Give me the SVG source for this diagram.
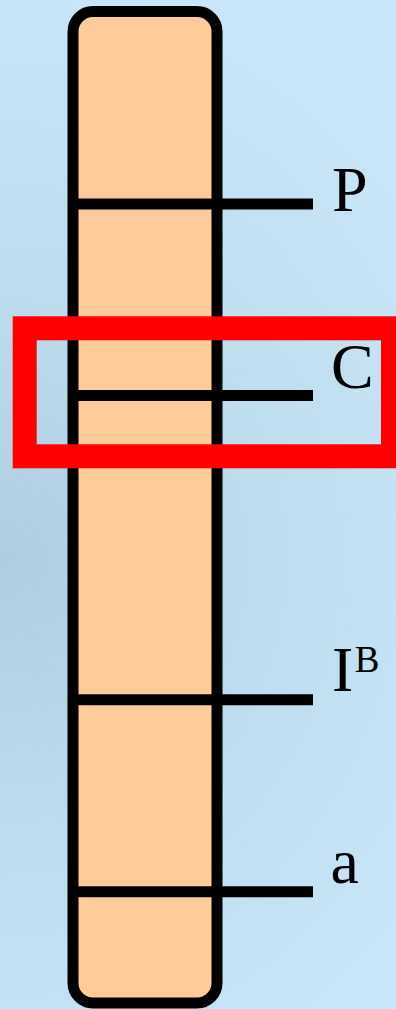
<svg xmlns="http://www.w3.org/2000/svg" width="396" height="1009" viewBox="0 0 396 1009">
<defs>
<radialGradient id="bg" gradientUnits="userSpaceOnUse" cx="0" cy="560" r="560" gradientTransform="translate(0 560) scale(1 1.1) translate(0 -560)">
<stop offset="0" stop-color="#AECDE0"/>
<stop offset="0.45" stop-color="#BDDCEE"/>
<stop offset="1" stop-color="#C9E7F9"/>
</radialGradient>
<style>
.gene{stroke:#000;stroke-width:11;fill:none}
.lbl{font-family:"Liberation Serif","Times New Roman",serif;font-size:64px;fill:#000}
</style>
</defs>
<rect width="396" height="1009" fill="url(#bg)"/>
<g id="chromosome">
<rect x="73" y="11.5" width="144" height="991.5" rx="20" ry="20" fill="#FFCB99" stroke="#000" stroke-width="11"/>
</g>
<g id="connectors">
<line class="gene" x1="73" y1="204" x2="313" y2="204"/>
<line class="gene" x1="73" y1="395.5" x2="313" y2="395.5"/>
<line class="gene" x1="73" y1="699.7" x2="313" y2="699.7"/>
<line class="gene" x1="73" y1="891.7" x2="313" y2="891.7"/>
</g>
<g id="gene-P"><text class="lbl" x="332" y="210.5">P</text></g>
<g id="gene-C"><text class="lbl" x="331" y="387.5">C</text></g>
<g id="gene-IB"><text class="lbl" x="332" y="691">I<tspan font-size="37" dx="1.5" dy="-19.5">B</tspan></text></g>
<g id="gene-a"><text class="lbl" x="330.5" y="883">a</text></g>
<g id="highlight">
<rect x="24.7" y="328.3" width="368.3" height="128" fill="none" stroke="#FF0000" stroke-width="24"/>
</g>
</svg>
